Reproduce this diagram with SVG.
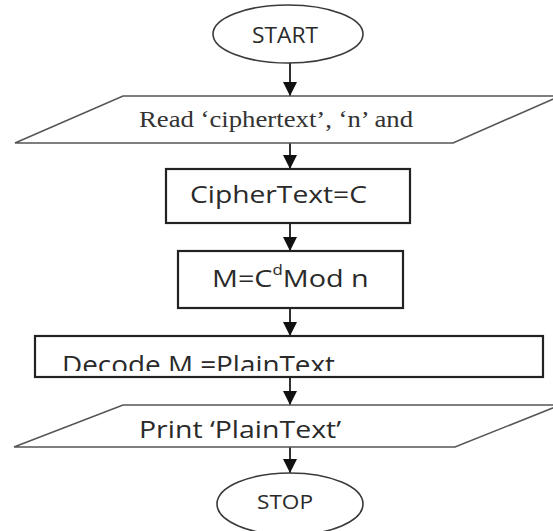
<svg xmlns="http://www.w3.org/2000/svg" width="553" height="531" viewBox="0 0 553 531">
  <style>
    .bg { fill: #ffffff; }
    .term { fill: #ffffff; stroke: #3a3a3a; stroke-width: 1.6; }
    .box { fill: #ffffff; stroke: #222222; stroke-width: 2.2; }
    .io { fill: #ffffff; stroke: #555555; stroke-width: 1.6; }
    .conn { stroke: #1a1a1a; stroke-width: 1.8; fill: none; marker-end: url(#arr); }
    .sans { font-family: "Open Sans", "Liberation Sans", sans-serif; fill: #2a2a2a; }
    .serif { font-family: "Liberation Serif", "DejaVu Serif", serif; fill: #333333; }
  </style>
  <defs>
    <marker id="arr" markerUnits="userSpaceOnUse" markerWidth="14" markerHeight="14" viewBox="0 0 12 12" refX="12" refY="6" orient="auto">
      <path d="M0,0 L12,6 L0,12 z" fill="#111111"/>
    </marker>
    <clipPath id="decodeClip">
      <rect x="36" y="337" width="506" height="34"/>
    </clipPath>
  </defs>
  <rect class="bg" x="0" y="0" width="553" height="531"/>

  <g id="connectors">
    <line class="conn" x1="290" y1="63" x2="290" y2="96"/>
    <line class="conn" x1="290" y1="143" x2="290" y2="169"/>
    <line class="conn" x1="290" y1="223" x2="290" y2="251"/>
    <line class="conn" x1="290" y1="308" x2="290" y2="336"/>
    <line class="conn" x1="290" y1="377" x2="290" y2="405"/>
    <line class="conn" x1="290" y1="447" x2="290" y2="473"/>
  </g>

  <g id="start">
    <ellipse class="term" cx="288" cy="34" rx="75" ry="29"/>
    <text class="sans" x="252" y="43" font-size="22" textLength="66" lengthAdjust="spacingAndGlyphs">START</text>
  </g>

  <g id="read">
    <polygon class="io" points="123,96 560,96 453,143 15,143"/>
    <text class="serif" x="139" y="127" font-size="23" textLength="274" lengthAdjust="spacingAndGlyphs">Read ‘ciphertext’, ‘n’ and</text>
  </g>

  <g id="ciphertext">
    <rect class="box" x="166" y="169" width="244" height="54"/>
    <text class="sans" x="190" y="203" font-size="24" textLength="177" lengthAdjust="spacingAndGlyphs">CipherText=C</text>
  </g>

  <g id="decrypt">
    <rect class="box" x="178" y="251" width="225" height="57"/>
    <text class="sans" font-size="24" transform="translate(212,287) scale(1.2,1)">M=C<tspan font-size="14" dy="-12">d</tspan><tspan dy="12">Mod n</tspan></text>
  </g>

  <g id="decode">
    <rect class="box" x="35" y="336" width="508" height="41"/>
    <text class="sans" x="62" y="374" font-size="25" textLength="273" lengthAdjust="spacingAndGlyphs" clip-path="url(#decodeClip)">Decode M =PlainText</text>
  </g>

  <g id="print">
    <polygon class="io" points="123,405 560,405 455,447 14,447"/>
    <text class="sans" x="139" y="438" font-size="24" textLength="202" lengthAdjust="spacingAndGlyphs">Print ‘PlainText’</text>
  </g>

  <g id="stop">
    <ellipse class="term" cx="290" cy="504" rx="73" ry="31"/>
    <text class="sans" x="257" y="509" font-size="20" textLength="56" lengthAdjust="spacingAndGlyphs">STOP</text>
  </g>
</svg>
